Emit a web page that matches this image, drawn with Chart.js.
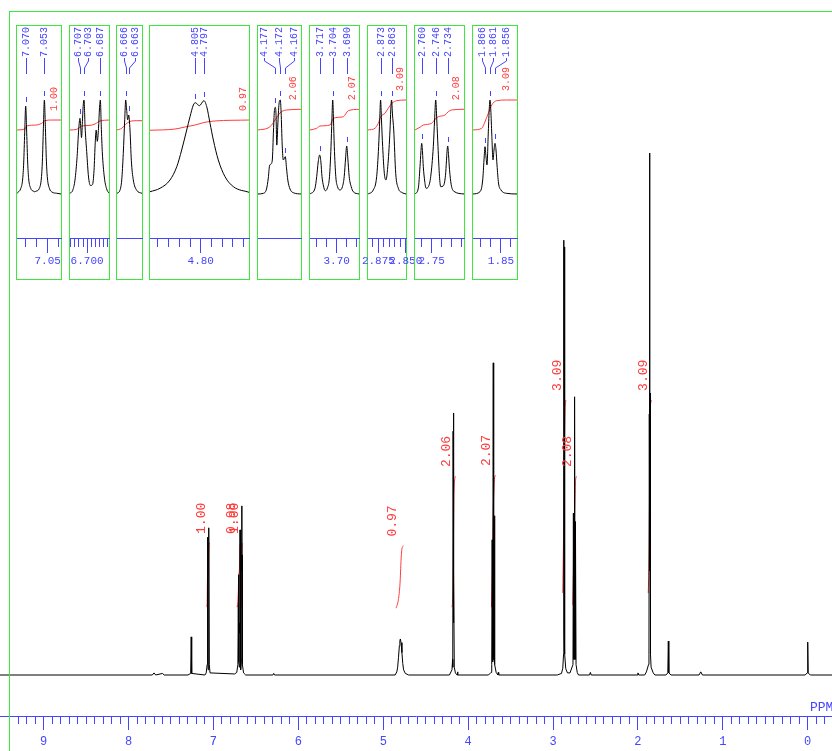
<!DOCTYPE html>
<html><head><meta charset="utf-8">
<script src="https://cdn.jsdelivr.net/npm/chart.js@4.4.1/dist/chart.umd.min.js"></script>
<style>
html,body{margin:0;padding:0;background:#fff;width:832px;height:751px;overflow:hidden;}
#wrap{position:relative;width:832px;height:751px;}
.fl{position:absolute;background:#3be83b;}
.box{position:absolute;top:25px;height:255px;border:1px solid #3be83b;box-sizing:border-box;}
</style></head>
<body><div id="wrap"><canvas id="main" width="832" height="751" style="position:absolute;left:0;top:0;width:832px;height:751px"></canvas>
<div class="fl" style="left:9px;top:11px;width:1px;height:740px"></div>
<div class="fl" style="left:9px;top:11px;width:823px;height:1px"></div></div>
<script>
// ---------------- DATA ----------------
// main spectrum: [ppm, intensity] (1.861 ppm line = 100)
const spectrum = [
[9.514,0],[7.72,0],[7.70,0.4],[7.68,0],[7.60,0.3],[7.58,0],
[7.30,0],[7.268,0.3],[7.262,7.3],[7.256,0.3],[7.10,0],
[7.085,0.4],[7.074,2],[7.070,26.4],[7.066,3],[7.062,1],[7.057,3],[7.053,28.2],[7.049,2],[7.04,0.4],[6.75,0.2],
[6.725,0.5],[6.712,2],[6.707,13.4],[6.705,9],[6.703,19.2],[6.699,2.5],[6.695,1.5],[6.691,10],[6.689,8],[6.687,27.8],[6.683,2],[6.676,1],[6.670,3],[6.666,32.4],[6.6645,20],[6.663,23],[6.659,2],[6.645,0.4],[6.62,0],
[6.30,0],[6.29,0.3],[6.28,0],
[4.86,0],[4.84,0.6],[4.83,1.5],[4.82,3.4],[4.81,5.6],[4.804,6.6],[4.798,6.9],[4.79,6.2],[4.78,4.3],[4.77,2.2],[4.76,1],[4.74,0.3],[4.70,0],
[4.22,0],[4.19,1],[4.183,3],[4.181,1.5],[4.177,46.7],[4.175,20],[4.172,50.2],[4.170,10],[4.167,19.6],[4.163,1.5],[4.15,0.4],[4.13,0],[4.125,0.6],[4.12,0],
[3.76,0],[3.73,0.5],[3.722,2],[3.717,25.9],[3.712,2.5],[3.709,3],[3.704,59.8],[3.699,3],[3.695,3],[3.690,30.5],[3.685,2],[3.67,0.5],[3.65,0],[3.645,0.5],[3.64,0],
[2.95,0],[2.90,0.3],[2.885,1.3],[2.876,4],[2.873,83.3],[2.869,8],[2.867,8],[2.863,82],[2.859,4],[2.85,1.2],[2.83,0.4],[2.80,0.4],
[2.765,2],[2.760,31],[2.755,3],[2.751,3],[2.746,53.3],[2.741,3],[2.738,3],[2.734,29.4],[2.729,2],[2.715,0.5],[2.70,0],
[2.57,0],[2.56,0.5],[2.55,0],
[2.01,0],[2.0,0.4],[1.99,0],
[1.92,0],[1.90,0.6],[1.875,2],[1.870,4],[1.866,50],[1.8635,20],[1.861,100],[1.8585,20],[1.856,54],[1.852,4],[1.845,1.5],[1.82,0.4],[1.80,0],
[1.67,0],[1.648,0.4],[1.642,6.5],[1.636,0.4],[1.61,0],
[1.28,0],[1.26,0.6],[1.24,0],
[0.03,0],[0.006,0.4],[0.0,6.3],[-0.006,0.4],[-0.03,0],[-0.286,0]
];
// main integral curves and their values
const integralCurves = [
[[7.085,13],[7.074,13.6],[7.070,18.5],[7.062,19.2],[7.053,24.6],[7.045,25.3],[7.04,25.3]],
[[6.72,13],[6.707,16],[6.703,19],[6.695,20],[6.687,24.5],[6.68,25.3]],
[[6.675,13],[6.666,19],[6.663,24],[6.655,25.3]],
[[4.849,12.8],[4.822,14.4],[4.802,17.6],[4.790,22],[4.782,23.9],[4.763,24.8]],
[[4.19,13],[4.178,16],[4.172,27],[4.167,35],[4.15,38.1]],
[[3.725,13],[3.717,18],[3.704,31],[3.690,37.5],[3.675,38.3]],
[[2.885,15.7],[2.873,31],[2.863,48],[2.85,52.7]],
[[2.767,13.4],[2.760,19],[2.746,31],[2.734,37.4],[2.717,38.1]],
[[1.878,15.7],[1.866,26],[1.861,42],[1.856,51],[1.834,52.7]]
];
const integralValues = ['1.00','0.98','1.00','0.97','2.06','2.07','3.09','2.08','3.09'];
// main axis
const mainRange = [9.514, -0.286];
const mainMajorTicks = [9,8,7,6,5,4,3,2,1,0];
const mainMinorStep = 0.1;
const mainYRange = [-7.854, 129.31];
const axisTitle = 'PPM';

// expansions (insets)
const insetRanges = [[7.0779,7.0379],[6.7168,6.6785],[6.6739,6.6512],[4.8474,4.7549],[4.1943,4.1513],[3.7267,3.6777],[2.8845,2.8498],[2.7667,2.7177],[1.878,1.834]];
const insetTicks = [
 [7.07,7.06,7.05,7.04],
 [6.716,6.712,6.708,6.704,6.700,6.696,6.692,6.688,6.684,6.680],
 [],
 [4.84,4.83,4.82,4.81,4.80,4.79,4.78,4.77,4.76],
 [],
 [3.72,3.71,3.70,3.69,3.68],
 [2.880,2.875,2.870,2.865,2.860,2.855,2.850],
 [2.76,2.75,2.74,2.73,2.72],
 [1.87,1.86,1.85,1.84]
];
const insetMajorTicks = [[7.05],[6.700],[],[4.80],[],[3.70],[2.875,2.850],[2.75],[1.85]];
const insetTickLabels = [['7.05'],['6.700'],[],['4.80'],[],['3.70'],['2.875','2.850'],['2.75'],['1.85']];
const insetCurves = [
 [[7.0779,0.5],[7.0773,1.5],[7.07455,5.6],[7.07273,16],[7.07182,33],[7.07091,65],[7.0700,93.6],[7.06909,65],[7.06818,33],[7.06727,16],[7.06545,6],[7.0630,3],[7.0618,2.4],[7.0606,3],[7.05755,6],[7.05573,17],[7.05482,35],[7.05391,70],[7.0530,100],[7.05209,70],[7.05118,35],[7.05027,17],[7.04845,6],[7.0460,2],[7.0420,0.8],[7.0379,0]],
 [[6.7168,0.7],[6.7141,4],[6.7119,15],[6.7098,40],[6.7083,68],[6.707,80.5],[6.7062,70],[6.7055,60],[6.7045,80],[6.7037,96],[6.703,100],[6.702,72],[6.7004,45],[6.6986,18],[6.6967,9],[6.6947,10],[6.6932,25],[6.6920,55],[6.6911,68],[6.6900,56],[6.6888,70],[6.6878,92],[6.687,100],[6.6861,72],[6.6851,45],[6.6831,18],[6.681,6],[6.6785,0.7]],
 [[6.6739,0.7],[6.6712,4],[6.6696,15],[6.6682,43],[6.6669,79],[6.666,100],[6.6651,89],[6.6642,79],[6.6633,84],[6.6621,68],[6.6609,36],[6.6591,15],[6.656,4],[6.6512,0.7]],
 [[4.8474,2.4],[4.838,6.1],[4.8287,14.9],[4.8224,29],[4.8178,46.8],[4.8131,68.1],[4.81,82.2],[4.8069,94.7],[4.805,97.1],[4.8013,93.9],[4.797,99.3],[4.7944,92.9],[4.7913,75.2],[4.7882,57.4],[4.7836,36.2],[4.7773,18.4],[4.7695,7.8],[4.7549,1.8]],
 [[4.1943,0],[4.189,0.7],[4.1858,5.3],[4.184,17],[4.1828,29.8],[4.1813,31.9],[4.18,36.2],[4.1788,68.1],[4.178,87.2],[4.177,92.2],[4.1763,85],[4.1755,52],[4.1745,73.4],[4.1733,95.7],[4.172,100],[4.1712,87.2],[4.1701,52],[4.169,36.2],[4.167,39.7],[4.1658,27.7],[4.1645,14.9],[4.1623,5.3],[4.1583,1.1],[4.1513,0]],
 [[3.7267,0],[3.7217,6.1],[3.72,18.4],[3.7185,34],[3.717,41.5],[3.7158,34],[3.7147,18.4],[3.7132,8.5],[3.7115,3.5],[3.7093,6.4],[3.7072,18.4],[3.7057,50.3],[3.7048,78.7],[3.704,100],[3.7032,78.7],[3.7024,50.3],[3.7009,18.4],[3.6992,7.8],[3.6967,4.3],[3.6942,8],[3.6925,18.4],[3.6911,38.3],[3.690,51.1],[3.6889,38.3],[3.6875,18.4],[3.6855,7.8],[3.6834,2.4],[3.6777,0]],
 [[2.8845,0],[2.8797,4.3],[2.8766,18.4],[2.8748,50.3],[2.8738,78.7],[2.873,100],[2.8722,78.7],[2.8711,50.3],[2.8696,22],[2.8681,14.9],[2.8662,32.7],[2.8644,68.1],[2.8637,89.4],[2.863,100],[2.8621,84],[2.861,68.1],[2.8592,22],[2.8568,6.1],[2.8535,1.6],[2.8498,0]],
 [[2.7667,0],[2.7634,6.1],[2.7617,29],[2.7608,44.7],[2.76,53.9],[2.7592,44.7],[2.7584,29],[2.757,13.8],[2.7557,6.1],[2.7532,8],[2.751,18.4],[2.7484,50.3],[2.7471,78.7],[2.746,100],[2.7449,78.7],[2.7437,50.3],[2.7422,18.4],[2.741,7.8],[2.7385,8.5],[2.7362,20],[2.7352,36],[2.7347,45],[2.734,51.1],[2.7332,42],[2.7322,26],[2.7305,10],[2.728,3],[2.7177,0]],
 [[1.878,0],[1.871,2.4],[1.8683,14.9],[1.867,36.2],[1.866,50.3],[1.865,39.4],[1.864,30.9],[1.8628,62.8],[1.8618,89.4],[1.861,100],[1.8602,89.4],[1.8592,62.8],[1.858,36.2],[1.857,46.8],[1.856,53.9],[1.855,46.8],[1.854,30.9],[1.8525,11.7],[1.85,4.3],[1.8443,0.7],[1.834,0]]
];
const insetIntegrals = [
 [[7.0779,68.1],[7.0706,69.2],[7.0691,72.3],[7.0600,73.4],[7.0555,75.2],[7.0525,78],[7.0464,78.7],[7.0379,78.7]],
 [[6.7168,68.1],[6.7102,68.8],[6.7053,72.3],[6.6972,73],[6.6922,74.5],[6.6873,77.7],[6.6785,78.7]],
 [[6.6739,68.1],[6.6696,69.9],[6.666,74.1],[6.6627,76.9],[6.656,78],[6.6512,78]],
 [[4.8474,67.8],[4.824,69.1],[4.8147,71.3],[4.8053,73.4],[4.796,76.3],[4.7866,77.7],[4.7549,78.7]],
 [[4.1943,68.1],[4.1843,70.2],[4.1806,73.4],[4.1773,78.7],[4.1723,86.2],[4.1696,88.3],[4.1656,89.4],[4.1513,90.1]],
 [[3.7267,68.1],[3.72,69.9],[3.7167,72.3],[3.7067,73.4],[3.7034,80.5],[3.6934,82.2],[3.6884,88.6],[3.6777,90.1]],
 [[2.8845,68.1],[2.8781,69.9],[2.8751,75.2],[2.8729,82.2],[2.869,85.9],[2.866,91.2],[2.8626,96.5],[2.8583,99.3],[2.8498,100]],
 [[2.7667,68.1],[2.7617,71],[2.7584,73.4],[2.75,75.2],[2.7467,79.5],[2.7434,82.2],[2.7367,84],[2.7334,87.6],[2.73,89.4],[2.7177,90.1]],
 [[1.878,68.1],[1.8693,69.9],[1.866,76.9],[1.8627,85.9],[1.8593,94.7],[1.8543,99.3],[1.8443,100],[1.834,100]]
];
const insetIntegralValues = ['1.00', null, null, '0.97', '2.06', '2.07', '3.09', '2.08', '3.09'];
const peakPicks = [[7.070,7.053],[6.707,6.703,6.687],[6.666,6.663],[4.805,4.797],[4.177,4.172,4.167],[3.717,3.704,3.690],[2.873,2.863],[2.760,2.746,2.734],[1.866,1.861,1.856]];
const peakPickHeights = [[93.6,100],[80.5,100,100],[100,84],[97.1,99.3],[92.2,100,39.7],[41.5,100,51.1],[100,100],[53.9,100,51.1],[50.3,100,53.9]];
const insetYRange = [-46.81, 178.72];

// ---------------- LAYOUT / STYLE ----------------
const BLUE = '#4545ff', RED = '#ff3c3c', BLACK = '#000000';
const MONO = '"Liberation Mono","DejaVu Sans Mono",monospace';
const boxes = [[16,61],[69,109],[116,142],[149,249],[257,301],[309,359],[367,406],[414,464],[472,517]];
const pickLabelX = [null,[78,88,100.3],[124,135],null,[264,279.3,293.7],null,null,null,[482,492.5,505.5]];
const intLabelInset = [7,0,0,6,8,7,6,8,11];
const PAD = 20, INSET_TOP = 26, INSET_H = 253, INSET_AXIS_H = 41;

const pts = a => a.map(p => ({x:p[0], y:p[1]}));
const near = (v, arr) => arr.some(m => Math.abs(m - v) < 1e-6);

function drawRotText(ctx, txt, x, yBottom, font, color){
  ctx.save();
  ctx.translate(x, yBottom);
  ctx.rotate(-Math.PI/2);
  ctx.font = font; ctx.fillStyle = color;
  ctx.textAlign = 'left'; ctx.textBaseline = 'middle';
  ctx.fillText(txt, 0, 0);
  ctx.restore();
}

// ---------------- MAIN CHART ----------------
const mainTicks = [];
for (let i = 94; i >= -2; i--) mainTicks.push(Math.round(i * mainMinorStep * 10) / 10);

const mainLabelsPlugin = {
  id:'mainLabels',
  afterDatasetsDraw(chart){
    const ctx = chart.ctx, xs = chart.scales.x, ys = chart.scales.y;
    integralCurves.forEach((c, i) => {
      const mid = (c[0][0] + c[c.length-1][0]) / 2;
      const x = xs.getPixelForValue(mid) - 7;
      const yb = ys.getPixelForValue(c[c.length-1][1]) - 9;
      drawRotText(ctx, integralValues[i], x, yb, '13px ' + MONO, RED);
    });
    ctx.save();
    ctx.font = '13px ' + MONO; ctx.fillStyle = BLUE; ctx.textAlign = 'left'; ctx.textBaseline = 'middle';
    ctx.fillText(axisTitle, 810, 708);
    ctx.restore();
  }
};

const mainDatasets = [{
  data: pts(spectrum), borderColor: BLACK, borderWidth: 1, pointRadius: 0, tension: 0, order: 0
}];
integralCurves.forEach(c => mainDatasets.push({
  data: pts(c), borderColor: RED, borderWidth: 1, pointRadius: 0, cubicInterpolationMode: 'monotone', order: 1
}));

new Chart(document.getElementById('main'), {
  type: 'line',
  data: { datasets: mainDatasets },
  options: {
    responsive: false, animation: false, events: [],
    layout: { padding: 0 },
    plugins: { legend: {display:false}, tooltip: {enabled:false} },
    scales: {
      x: {
        type: 'linear', reverse: true, min: mainRange[1], max: mainRange[0], bounds: 'data',
        afterBuildTicks: s => { s.ticks = mainTicks.map(v => ({value: v})); },
        afterFit: s => { s.height = 35; },
        border: { display: true, color: BLUE, width: 1 },
        grid: { drawOnChartArea: false, drawTicks: true, tickLength: 14, tickColor: BLUE, tickWidth: 1,
                tickBorderDash: ctx => near(ctx.tick.value, mainMajorTicks) ? [] : [7, 40] },
        ticks: { autoSkip: false, maxRotation: 0, minRotation: 0, padding: 5, color: BLUE,
                 font: { family: MONO, size: 12 },
                 callback: v => near(v, mainMajorTicks) ? String(Math.round(v)) : '' }
      },
      y: { display: false, min: mainYRange[0], max: mainYRange[1] }
    }
  },
  plugins: [mainLabelsPlugin]
});

// ---------------- INSETS ----------------
const wrap = document.getElementById('wrap');
boxes.forEach((b, i) => {
  const box = document.createElement('div');
  box.className = 'box';
  box.style.left = b[0] + 'px';
  box.style.width = (b[1] - b[0] + 1) + 'px';
  wrap.appendChild(box);

  const cv = document.createElement('canvas');
  const w = b[1] - b[0] - 1 + 2 * PAD;
  const offX = b[0] + 1 - PAD;
  cv.width = w; cv.height = INSET_H;
  cv.style.cssText = `position:absolute;left:${offX}px;top:${INSET_TOP}px;width:${w}px;height:${INSET_H}px`;
  wrap.appendChild(cv);

  const picksPlugin = {
    id: 'picks' + i,
    afterDatasetsDraw(chart){
      const ctx = chart.ctx, xs = chart.scales.x, ys = chart.scales.y;
      ctx.save();
      ctx.strokeStyle = BLUE; ctx.lineWidth = 1;
      peakPicks[i].forEach((p, j) => {
        const px = Math.round(xs.getPixelForValue(p)) + 0.5;
        const py = ys.getPixelForValue(peakPickHeights[i][j]);
        const lx = pickLabelX[i] ? Math.round(pickLabelX[i][j] - offX) + 0.5 : px;
        ctx.beginPath();
        ctx.moveTo(px, Math.round(py - 9)); ctx.lineTo(px, Math.round(py - 4));
        ctx.stroke();
        ctx.beginPath();
        ctx.moveTo(lx, 58 - INSET_TOP);
        if (Math.abs(lx - px) > 0.8) { ctx.lineTo(lx, 61 - INSET_TOP); ctx.lineTo(px, 68 - INSET_TOP); }
        ctx.lineTo(px, 74 - INSET_TOP);
        ctx.stroke();
        drawRotText(ctx, p.toFixed(3), lx, 57 - INSET_TOP, '10px ' + MONO, BLUE);
      });
      if (insetIntegralValues[i]) {
        const c = insetIntegrals[i];
        const yb = ys.getPixelForValue(c[c.length-1][1]) - 9;
        drawRotText(ctx, insetIntegralValues[i], xs.right - intLabelInset[i], yb, '10px ' + MONO, RED);
      }
      ctx.restore();
    }
  };

  new Chart(cv, {
    type: 'line',
    data: { datasets: [
      { data: pts(insetCurves[i]), borderColor: BLACK, borderWidth: 1, pointRadius: 0, cubicInterpolationMode: 'monotone', order: 0 },
      { data: pts(insetIntegrals[i]), borderColor: RED, borderWidth: 1, pointRadius: 0, cubicInterpolationMode: 'monotone', order: 1 }
    ]},
    options: {
      responsive: false, animation: false, events: [],
      layout: { padding: { left: PAD, right: PAD, top: 0, bottom: 0 } },
      plugins: { legend: {display:false}, tooltip: {enabled:false} },
      scales: {
        x: {
          type: 'linear', reverse: true, min: insetRanges[i][1], max: insetRanges[i][0], bounds: 'data',
          afterBuildTicks: s => { s.ticks = insetTicks[i].map(v => ({value: v})); },
          afterFit: s => { s.height = INSET_AXIS_H; },
          border: { display: true, color: BLUE, width: 1 },
          grid: { drawOnChartArea: false, drawTicks: true, tickLength: 15, tickColor: BLUE, tickWidth: 1,
                  tickBorderDash: ctx => near(ctx.tick.value, insetMajorTicks[i]) ? [] : [8, 40] },
          ticks: { autoSkip: false, maxRotation: 0, minRotation: 0, padding: 1, color: BLUE,
                   font: { family: MONO, size: 11 },
                   callback: v => {
                     const k = insetMajorTicks[i].findIndex(m => Math.abs(m - v) < 1e-6);
                     return k >= 0 ? insetTickLabels[i][k] : '';
                   } }
        },
        y: { display: false, min: insetYRange[0], max: insetYRange[1] }
      }
    },
    plugins: [picksPlugin]
  });
});
</script>
</body></html>
